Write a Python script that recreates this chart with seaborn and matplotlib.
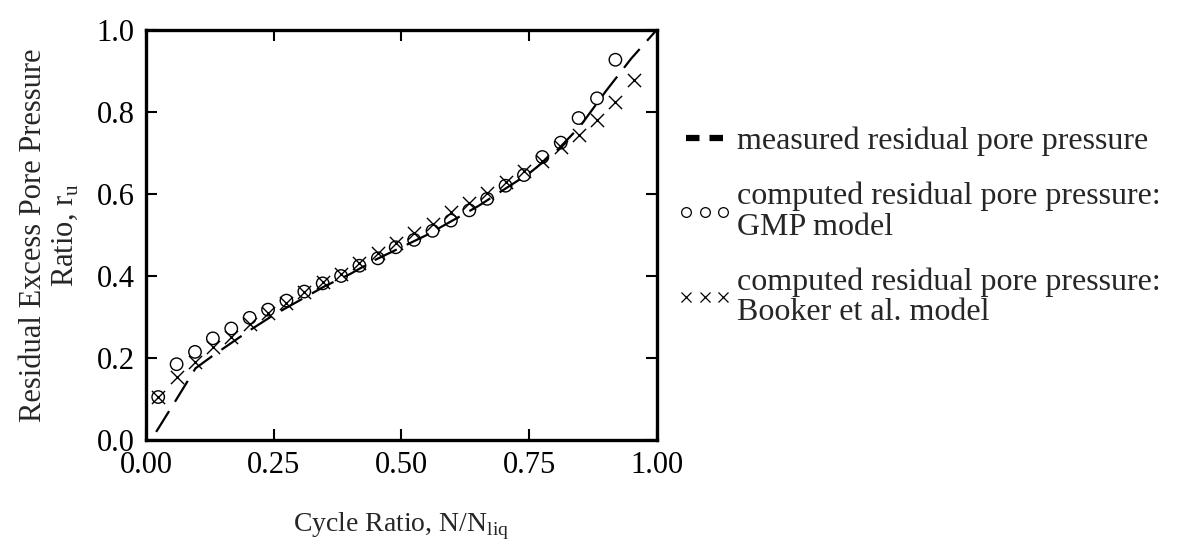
import numpy as np
import pandas as pd
import matplotlib
matplotlib.use("Agg")
import matplotlib.pyplot as plt
from matplotlib.lines import Line2D
import seaborn as sns

# measured residual pore pressure (dashed)
measured_x = [0.02, 0.06, 0.097, 0.13, 0.2, 0.25, 0.3, 0.35, 0.4, 0.45, 0.5,
              0.55, 0.6, 0.65, 0.7, 0.75, 0.8, 0.85, 0.9, 0.95, 1.0]
measured_y = [0.02, 0.10, 0.175, 0.205, 0.265, 0.305, 0.34, 0.375, 0.405, 0.44, 0.47,
              0.50, 0.535, 0.57, 0.61, 0.65, 0.70, 0.765, 0.85, 0.93, 1.0]

# computed: GMP model (circles)
gmp_x = [0.024, 0.060, 0.096, 0.131, 0.167, 0.203, 0.239, 0.275, 0.310, 0.346,
         0.382, 0.418, 0.454, 0.489, 0.525, 0.561, 0.597, 0.633, 0.668, 0.704,
         0.740, 0.776, 0.812, 0.847, 0.883, 0.919]
gmp_y = [0.105, 0.185, 0.215, 0.248, 0.272, 0.298, 0.318, 0.340, 0.362, 0.382,
         0.400, 0.425, 0.443, 0.470, 0.488, 0.510, 0.535, 0.560, 0.588, 0.620,
         0.646, 0.690, 0.725, 0.785, 0.833, 0.927]

# computed: Booker et al. model (crosses)
booker_x = [0.024, 0.060, 0.096, 0.131, 0.167, 0.203, 0.239, 0.275, 0.310, 0.346,
            0.382, 0.418, 0.454, 0.489, 0.525, 0.561, 0.597, 0.633, 0.668, 0.704,
            0.740, 0.776, 0.812, 0.847, 0.883, 0.919, 0.955]
booker_y = [0.105, 0.155, 0.190, 0.228, 0.252, 0.283, 0.310, 0.335, 0.360, 0.385,
            0.405, 0.432, 0.455, 0.480, 0.504, 0.527, 0.557, 0.578, 0.602, 0.630,
            0.655, 0.680, 0.715, 0.744, 0.780, 0.825, 0.878]

x_ticks = [0.00, 0.25, 0.50, 0.75, 1.00]
y_ticks = [0.0, 0.2, 0.4, 0.6, 0.8, 1.0]

legend_labels = ["measured residual pore pressure",
                 "computed residual pore pressure:\nGMP model",
                 "computed residual pore pressure:\nBooker et al. model"]

sns.set_style("ticks")
plt.rcParams["font.family"] = ["Liberation Serif", "DejaVu Serif"]
plt.rcParams["mathtext.fontset"] = "custom"
plt.rcParams["mathtext.rm"] = "Liberation Serif"

fig = plt.figure(figsize=(11.77, 5.42), dpi=100)
ax = fig.add_axes([0.124, 0.188, 0.434, 0.757])

sns.lineplot(x=measured_x, y=measured_y, ax=ax, color="black", lw=1.6,
             sort=False, estimator=None)
ax.lines[0].set_dashes((11, 5))

sns.scatterplot(x=gmp_x, y=gmp_y, ax=ax, marker="o", s=80,
                facecolor="none", edgecolor="black", linewidth=1.0)
sns.scatterplot(x=booker_x, y=booker_y, ax=ax, marker="x", s=90,
                color="black", linewidth=1.0)

ax.set_xlim(0, 1)
ax.set_ylim(0, 1)
ax.set_xticks(x_ticks)
ax.set_xticklabels([f"{t:.2f}" for t in x_ticks])
ax.set_yticks(y_ticks)
ax.set_yticklabels([f"{t:.1f}" for t in y_ticks])
ax.tick_params(direction="in", top=True, right=True, length=8, width=1.5,
               labelsize=22, pad=8, colors="black")
for sp in ax.spines.values():
    sp.set_linewidth(2.4)
    sp.set_color("black")

ax.set_xlabel("Cycle Ratio, N/N$_\\mathregular{liq}$", fontsize=20, labelpad=22)
ax.set_ylabel("Residual Excess Pore Pressure\nRatio, r$_\\mathregular{u}$",
              fontsize=22, labelpad=12, linespacing=1.15)

handles = [
    Line2D([], [], color="black", lw=4.5, dashes=(2.16, 1.6)),
    Line2D([], [], color="black", lw=0, marker="o", markersize=7,
           markerfacecolor="none", markeredgewidth=0.9),
    Line2D([], [], color="black", lw=0, marker="x", markersize=7,
           markeredgewidth=0.9),
]
leg = fig.legend(handles, legend_labels, loc="upper left",
                 bbox_to_anchor=(0.5505, 0.819), frameon=False, fontsize=23,
                 numpoints=3, handlelength=1.75, handletextpad=0.15,
                 labelspacing=0.8)
for t in leg.get_texts():
    t.set_linespacing(1.05)

fig.savefig("out.png", dpi=100)
